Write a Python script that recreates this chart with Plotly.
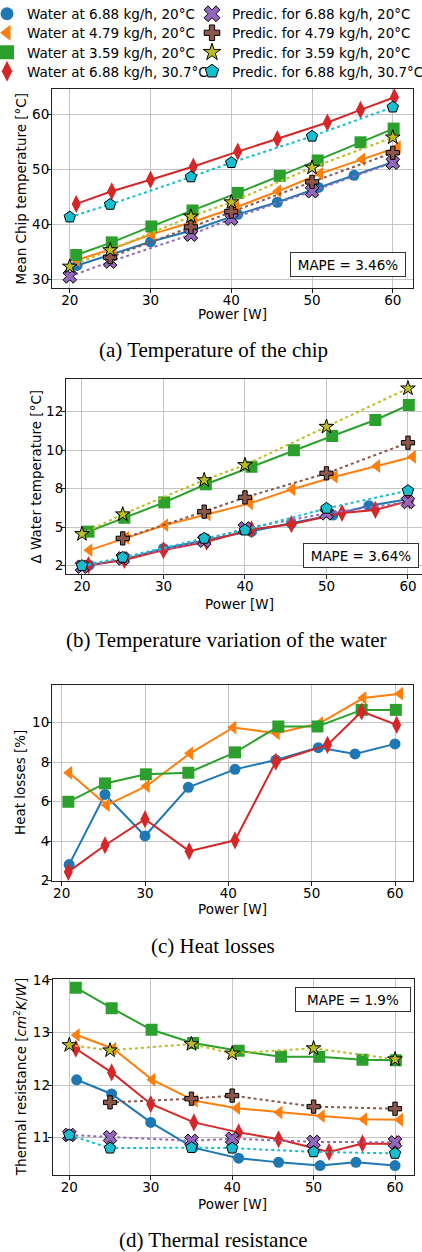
import plotly.graph_objects as go

# ---------------- data ----------------
# power [W] of the measured series
P_w688 = [20.9, 25.2, 30.0, 35.2, 40.8, 45.7, 50.8, 55.2, 60.0]
P_w479 = [20.9, 25.4, 30.2, 35.4, 40.6, 45.8, 51.0, 56.2, 60.6]
P_w359 = [20.8, 25.2, 30.1, 35.2, 40.8, 46.0, 50.7, 56.0, 60.1]
P_w688h = [20.8, 25.2, 30.0, 35.3, 40.8, 45.7, 51.9, 56.0, 60.2]
# power [W] of the predictions
P_pred = [20, 25, 35, 40, 50, 60]
P_pred479 = [25, 35, 40, 50, 60]

# (a) mean chip temperature [°C]
T_w688 = [32.5, 34.6, 36.8, 38.9, 41.8, 44.0, 46.7, 48.9, 51.3]
T_w479 = [33.5, 35.6, 38.2, 40.5, 43.1, 46.0, 49.2, 51.8, 54.0]
T_w359 = [34.4, 36.7, 39.6, 42.5, 45.7, 48.8, 51.6, 54.9, 57.4]
T_w688h = [43.7, 46.0, 48.1, 50.5, 53.2, 55.5, 58.5, 60.8, 63.1]
T_p688 = [30.5, 33.2, 38.1, 41.0, 46.0, 51.2]
T_p479 = [34.0, 39.5, 42.3, 47.7, 53.0]
T_p359 = [32.3, 35.3, 41.4, 44.0, 50.3, 55.8]
T_p688h = [41.3, 43.6, 48.6, 51.2, 56.0, 61.3]

# (b) water temperature variation (axis units as drawn)
D_w688 = [4.03, 4.33, 4.90, 5.33, 5.77, 6.20, 6.63, 7.12, 7.45]
D_w479 = [4.81, 5.45, 6.11, 6.67, 7.24, 7.97, 8.62, 9.18, 9.66]
D_w359 = [5.77, 6.49, 7.29, 8.23, 9.14, 10.0, 10.74, 11.57, 12.35]
D_w688h = [4.03, 4.30, 4.81, 5.25, 5.89, 6.16, 6.74, 6.90, 7.38]
D_p688 = [3.95, 4.38, 5.30, 5.94, 6.72, 7.31]
D_p479 = [5.42, 6.81, 7.55, 8.80, 10.39]
D_p359 = [5.65, 6.67, 8.45, 9.23, 11.22, 13.21]
D_p688h = [4.00, 4.43, 5.42, 5.85, 6.98, 7.90]
D_tickvals = [4, 6, 8, 10, 12]
D_ticktext = ["2", "5", "8", "10", "12"]

# (c) heat losses [%]
H_w688 = [2.81, 6.36, 4.26, 6.72, 7.63, 8.10, 8.73, 8.41, 8.92]
H_w479 = [7.46, 5.82, 6.79, 8.44, 9.75, 9.46, 9.97, 11.24, 11.46]
H_w359 = [5.99, 6.92, 7.38, 7.46, 8.49, 9.80, 9.80, 10.64, 10.64]
H_w688h = [2.44, 3.79, 5.11, 3.49, 4.04, 8.02, 8.87, 10.56, 9.88]

# (d) thermal resistance [cm2K/W]
R_w688 = [12.10, 11.83, 11.29, 10.81, 10.61, 10.53, 10.47, 10.53, 10.47]
R_w479 = [12.95, 12.69, 12.10, 11.70, 11.56, 11.48, 11.41, 11.35, 11.34]
R_w359 = [13.85, 13.46, 13.05, 12.80, 12.65, 12.54, 12.54, 12.48, 12.47]
R_w688h = [12.69, 12.24, 11.64, 11.29, 11.10, 10.97, 10.73, 10.89, 10.88]
R_p688 = [11.05, 11.01, 10.94, 10.98, 10.92, 10.91]
R_p479 = [11.67, 11.74, 11.80, 11.59, 11.55]
R_p359 = [12.76, 12.66, 12.78, 12.60, 12.70, 12.49]
R_p688h = [11.05, 10.80, 10.81, 10.80, 10.73, 10.70]

names_w = ["Water at 6.88 kg/h, 20°C", "Water at 4.79 kg/h, 20°C",
           "Water at 3.59 kg/h, 20°C", "Water at 6.88 kg/h, 30.7°C"]
names_p = ["Predic. for 6.88 kg/h, 20°C", "Predic. for 4.79 kg/h, 20°C",
           "Predic. for 3.59 kg/h, 20°C", "Predic. for 6.88 kg/h, 30.7°C"]
mape = ["MAPE = 3.46%", "MAPE = 3.64%", "MAPE = 1.9%"]
captions = ["(a) Temperature of the chip", "(b) Temperature variation of the water",
            "(c) Heat losses", "(d) Thermal resistance"]

# ---------------- style ----------------
W, H = 422, 1252
FONT = "DejaVu Sans"
FS = 13.5
col_w = ["#1f77b4", "#ff7f0e", "#2ca02c", "#d62728"]
col_p = ["#9467bd", "#8c564b", "#bcbd22", "#17becf"]
sym_w = ["circle", "triangle-left", "square", "diamond-tall"]
size_w = [11, 12, 12, 13]
sym_p = ["x", "cross", "star", "pentagon"]
size_p = [12, 11, 11, 12]

def px_x(v):
    return v / W

def px_y(v):
    return 1 - v / H

# panel geometry in pixels: (left, right, top, bottom)
boxes = [(52, 413, 89, 288), (66, 422, 379, 574), (52, 413, 685, 881), (52.7, 414, 979.3, 1175)]
xranges = [[17.8, 62.5], [18.04, 61.72], [18.84, 62.16], [17.96, 62.33]]
yranges = [[28.4, 64.6], [3.57, 13.7], [1.98, 11.9], [10.29, 14.01]]
yticks = [([30, 40, 50, 60], None), (D_tickvals, D_ticktext), ([2, 4, 6, 8, 10], None), ([11, 12, 13, 14], None)]
ytitles = ["Mean Chip temperature [°C]", "Δ Water temperature [°C]", "Heat losses [%]",
           "Thermal resistance [<i>cm</i><sup>2</sup><i>K</i>/<i>W</i>]"]
ytitle_x = [20, 35, 20, 20]
xtitle_y = [314, 604, 909, 1204]
caption_xy = [(213, 350), (227, 640), (213, 946), (213, 1240)]
mape_xy = [(347.5, 264.5, 0), (360.5, 555.5, 1), (353, 999, 2)]
legend_rows = [14, 33, 52.5, 71.5]
legend_cols = [-13, 192]

meas_x = [P_w688, P_w479, P_w359, P_w688h]
pred_x = [P_pred, P_pred479, P_pred, P_pred]
panels_w = [[T_w688, T_w479, T_w359, T_w688h], [D_w688, D_w479, D_w359, D_w688h],
            [H_w688, H_w479, H_w359, H_w688h], [R_w688, R_w479, R_w359, R_w688h]]
panels_p = [[T_p688, T_p479, T_p359, T_p688h], [D_p688, D_p479, D_p359, D_p688h],
            None, [R_p688, R_p479, R_p359, R_p688h]]

fig = go.Figure()
layout = dict(width=W, height=H, margin=dict(l=0, r=0, t=0, b=0, autoexpand=False),
              paper_bgcolor="white", plot_bgcolor="white",
              font=dict(family=FONT, size=FS, color="black"), annotations=[])

for k in range(4):
    xa = "x" if k == 0 else f"x{k+1}"
    ya = "y" if k == 0 else f"y{k+1}"
    for i in range(4):
        fig.add_trace(go.Scatter(x=meas_x[i], y=panels_w[k][i], mode="lines+markers",
                                 xaxis=xa, yaxis=ya, showlegend=False,
                                 line=dict(color=col_w[i], width=2),
                                 marker=dict(symbol=sym_w[i], size=size_w[i], color=col_w[i])))
    if panels_p[k] is not None:
        for i in range(4):
            fig.add_trace(go.Scatter(x=pred_x[i], y=panels_p[k][i], mode="lines+markers",
                                     xaxis=xa, yaxis=ya, showlegend=False,
                                     line=dict(color=col_p[i], width=2, dash="dot"),
                                     marker=dict(symbol=sym_p[i], size=size_p[i], color=col_p[i],
                                                 line=dict(color="black", width=1))))
    l, r, t, b = boxes[k]
    axcommon = dict(showline=True, linecolor="#222", linewidth=1, mirror=True,
                    showgrid=True, gridcolor="#c4c4c4", gridwidth=1.2, zeroline=False,
                    ticks="outside", ticklen=4, tickcolor="#222", tickwidth=1, automargin=False,
                    tickfont=dict(family=FONT, size=FS, color="black"))
    layout["xaxis" if k == 0 else f"xaxis{k+1}"] = dict(
        domain=[px_x(l), px_x(r)], range=xranges[k], anchor=ya, ticklabelstandoff=-4,
        tickvals=[20, 30, 40, 50, 60], **axcommon)
    yt = dict(tickvals=yticks[k][0])
    if yticks[k][1] is not None:
        yt["ticktext"] = yticks[k][1]
    layout["yaxis" if k == 0 else f"yaxis{k+1}"] = dict(
        domain=[px_y(b), px_y(t)], range=yranges[k], anchor=xa, ticklabelstandoff=-5,
        **yt, **axcommon)
    # axis titles
    layout["annotations"].append(dict(
        text=ytitles[k], x=px_x(ytitle_x[k]), y=px_y((t + b) / 2), xref="paper", yref="paper",
        textangle=-90, showarrow=False, xanchor="center", yanchor="middle",
        font=dict(family=FONT, size=FS)))
    layout["annotations"].append(dict(
        text="Power [W]", x=px_x((l + min(r, 413)) / 2), y=px_y(xtitle_y[k]), xref="paper", yref="paper",
        showarrow=False, xanchor="center", yanchor="middle", font=dict(family=FONT, size=FS)))
    cx, cy = caption_xy[k]
    layout["annotations"].append(dict(
        text=captions[k], x=px_x(cx), y=px_y(cy), xref="paper", yref="paper",
        showarrow=False, xanchor="center", yanchor="middle",
        font=dict(family="Liberation Serif", size=21, color="black")))

for (mx, my, j) in mape_xy:
    layout["annotations"].append(dict(
        text=mape[j], x=px_x(mx), y=px_y(my), xref="paper", yref="paper",
        showarrow=False, xanchor="center", yanchor="middle", width=106, height=15,
        bgcolor="white", bordercolor="#333", borderwidth=1, borderpad=4,
        font=dict(family=FONT, size=FS)))

# legend entries (marker only, like the reference): one small legend per entry
for c, (names, syms, sizes, cols, edge) in enumerate([
        (names_w, sym_w, size_w, col_w, None), (names_p, sym_p, size_p, col_p, "black")]):
    for i in range(4):
        lname = "legend" if (c == 0 and i == 0) else f"legend{c*4 + i + 1}"
        mk = dict(symbol=syms[i], size=sizes[i] + 2, color=cols[i])
        if edge:
            mk["line"] = dict(color=edge, width=1)
        fig.add_trace(go.Scatter(x=[None], y=[None], mode="markers", name=names[i],
                                 legend=lname, showlegend=True, marker=mk))
        layout[lname] = dict(x=px_x(legend_cols[c]), y=px_y(legend_rows[i]),
                             xanchor="left", yanchor="middle", bgcolor="rgba(0,0,0,0)",
                             borderwidth=0, itemwidth=30, orientation="v",
                             font=dict(family=FONT, size=FS, color="black"))

fig.update_layout(**layout)
fig.write_html("out.html", config={"displayModeBar": False},
               post_script="document.body.style.margin='0px';")
